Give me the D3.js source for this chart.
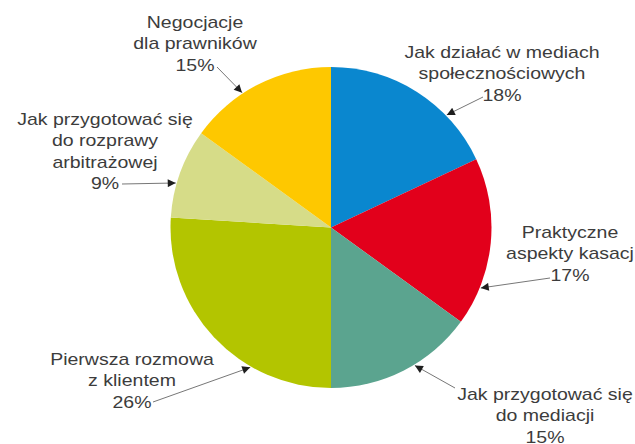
<!DOCTYPE html>
<html>
<head>
<meta charset="utf-8">
<script src="https://cdn.jsdelivr.net/npm/d3@7"></script>
<style>
  body { margin: 0; background: #fff; }
  svg { display: block; }
  text { font-family: "Liberation Sans", Arial, sans-serif; fill: #3c3c3c; }
</style>
</head>
<body>
<svg id="chart" width="635" height="444"></svg>
<script>
// slices clockwise from 12 o'clock
const categories = [
  ["Jak działać w mediach", "społecznościowych"],
  ["Praktyczne", "aspekty kasacj"],
  ["Jak przygotować się", "do mediacji"],
  ["Pierwsza rozmowa", "z klientem"],
  ["Jak przygotować się", "do rozprawy", "arbitrażowej"],
  ["Negocjacje", "dla prawników"]
];
const values = [18, 17, 15, 26, 9, 15];
const colors = ["#0a87cf", "#e2001b", "#5ba48f", "#b3c500", "#d6dc88", "#fec800"];

// label placement: centre x, first baseline y, leader start, arrow tip angle (deg)
const labelX = [502, 570, 545, 132, 105, 195];
const labelY = [58, 238, 400, 365, 125, 28];
const leaderFrom = [[483, 97], [550, 278], [455, 388], [153, 402], [122, 184], [217, 67]];
const tipAngle = [45.8, 112, 148.7, 210, 286, 326.6];

const svg = d3.select("#chart");
const cx = 331, cy = 227.5, r = 160.5;
const lineH = 21.5, fontSize = 16, stretch = 1.22;

const pie = d3.pie().sort(null).value(d => d)(values);
const arc = d3.arc().innerRadius(0).outerRadius(r);

const g = svg.append("g").attr("transform", `translate(${cx},${cy})`);
g.selectAll("path")
  .data(pie)
  .join("path")
  .attr("d", arc)
  .attr("fill", (d, i) => colors[i]);

svg.append("defs").append("marker")
  .attr("id", "head")
  .attr("viewBox", "0 0 10 10")
  .attr("refX", 10).attr("refY", 5)
  .attr("markerWidth", 10).attr("markerHeight", 8)
  .attr("markerUnits", "userSpaceOnUse")
  .attr("orient", "auto")
  .append("path")
  .attr("d", "M0,0L10,5L0,10Z")
  .attr("fill", "#1e1e1e");

// leaders
values.forEach((v, i) => {
  const a = tipAngle[i] * Math.PI / 180;
  const tx = cx + (r + 1) * Math.sin(a);
  const ty = cy - (r + 1) * Math.cos(a);
  svg.append("line")
    .attr("x1", leaderFrom[i][0]).attr("y1", leaderFrom[i][1])
    .attr("x2", tx).attr("y2", ty)
    .attr("stroke", "#777")
    .attr("stroke-width", 1)
    .attr("marker-end", "url(#head)");
});

// labels
categories.forEach((lines, i) => {
  const lg = svg.append("g")
    .attr("transform", `translate(${labelX[i]},${labelY[i]}) scale(${stretch},1)`);
  lines.concat([values[i] + "%"]).forEach((t, k) => {
    lg.append("text")
      .attr("x", 0)
      .attr("y", k * lineH)
      .attr("text-anchor", "middle")
      .attr("font-size", fontSize)
      .text(t);
  });
});
</script>
</body>
</html>
